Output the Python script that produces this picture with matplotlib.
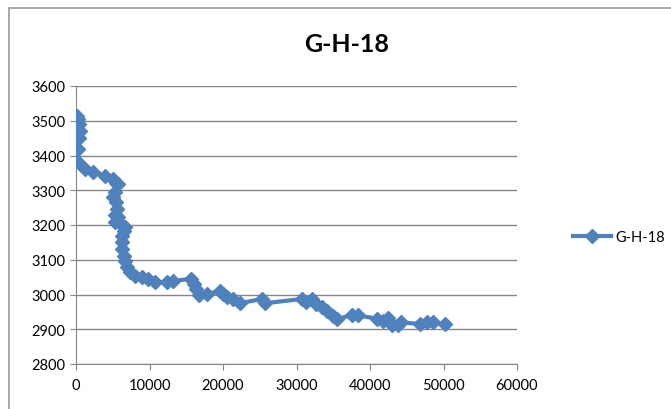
import matplotlib.pyplot as plt
from matplotlib.patches import Rectangle

x_vals = [200, 300, 400, 500, 400, 300, 300, 1200, 2300, 3900,
          5000, 5500, 5700, 5300, 5100, 5400, 5600, 5300, 5700, 5300,
          6000, 6700, 6500, 6300, 6300, 6300, 6500, 6700, 6900, 7400,
          8000, 9000, 9800, 10700, 12400, 13200, 15700, 16000, 16300, 16800,
          17800, 19600, 20000, 20500, 21400, 22300, 25300, 25700, 30700, 31300,
          32100, 32700, 33500, 34200, 35000, 35500, 37500, 38400, 41000, 41800,
          42500, 43000, 43800, 44200, 46800, 47700, 48600, 50200]
y_vals = [3515, 3505, 3490, 3470, 3450, 3420, 3380, 3362, 3352, 3342,
          3333, 3322, 3318, 3295, 3280, 3266, 3246, 3230, 3222, 3208,
          3205, 3194, 3182, 3168, 3151, 3131, 3111, 3096, 3079, 3065,
          3054, 3050, 3045, 3036, 3036, 3039, 3045, 3030, 3016, 2998,
          3001, 3010, 3001, 2992, 2987, 2975, 2987, 2975, 2987, 2978,
          2987, 2973, 2964, 2953, 2938, 2930, 2940, 2940, 2930, 2925,
          2932, 2912, 2912, 2920, 2915, 2920, 2920, 2915]
x_ticks = [0, 10000, 20000, 30000, 40000, 50000, 60000]
y_ticks = [2800, 2900, 3000, 3100, 3200, 3300, 3400, 3500, 3600]
series_name = 'G-H-18'

plt.rcParams['font.family'] = ['Lato', 'DejaVu Sans']
blue = '#4F81BD'
grey = '#868686'

fig = plt.figure(figsize=(6.71, 4.10), dpi=100)
ax = fig.add_axes([76 / 671, 1 - 365 / 410, (517 - 76) / 671, (365 - 87) / 410])

# chart area border
fig.patches.append(Rectangle((9 / 671, -0.1), 1.2, 1.1 - 9 / 410,
                             transform=fig.transFigure, fill=False,
                             edgecolor='#9a9a9a', linewidth=1.2))

ax.plot(x_vals, y_vals, color=blue, linewidth=3, marker='D',
        markersize=7, markerfacecolor=blue, markeredgecolor=blue,
        label=series_name, zorder=3)

ax.set_xlim(0, 60000)
ax.set_ylim(2800, 3600)
ax.set_xticks(x_ticks)
ax.set_yticks(y_ticks)
ax.grid(axis='y', color=grey, linewidth=1)
ax.set_axisbelow(True)
for side in ['top', 'right']:
    ax.spines[side].set_visible(False)
for side in ['left', 'bottom']:
    ax.spines[side].set_color(grey)
ax.tick_params(colors=grey, labelcolor='black', labelsize=10.5, length=4,
               direction='out')
ax.tick_params(axis='x', pad=6)

fig.text(347 / 671, 1 - 44 / 410, series_name, ha='center', va='center',
         fontsize=18, fontweight='bold')

fig.legend(loc='center left', bbox_to_anchor=(560 / 671, 1 - 238 / 410),
           frameon=False, fontsize=10.5, handlelength=2.6, handletextpad=0.3)

fig.savefig('out.png', dpi=100)
